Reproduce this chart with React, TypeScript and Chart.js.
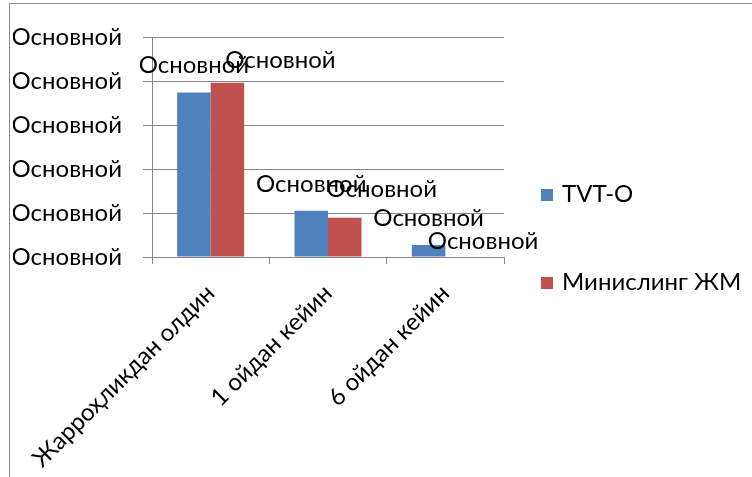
import React, { useEffect, useRef } from "react";
import { Chart, registerables } from "chart.js";

Chart.register(...registerables);

const categories = ["Жарроҳликдан олдин", "1 ойдан кейин", "6 ойдан кейин"];
const seriesNames = ["TVT-O", "Минислинг ЖМ"];
const tvtValues = [3.74, 1.05, 0.27];
const minislingValues = [3.96, 0.89, 0];
const yTickLabels = ["Основной", "Основной", "Основной", "Основной", "Основной", "Основной"];
const dataLabelText = "Основной";

const BLUE = "#4F81BD";
const RED = "#C0504D";
const GRID = "#868686";
const FONT = "Lato";
const FS = 24;

// label nudges (styling), per dataset per point
const labelNudges = [
  [{ dx: 0, dy: 0 }, { dx: 0, dy: 0 }, { dx: 0, dy: 0 }],
  [{ dx: 53, dy: 5 }, { dx: 37, dy: -1.5 }, { dx: 21, dy: 11.5 }],
];

const dataLabelPlugin = {
  id: "dataLabels",
  afterDatasetsDraw(chart: any) {
    const ctx = chart.ctx;
    ctx.save();
    ctx.font = `${FS}px ${FONT}`;
    ctx.fillStyle = "#000";
    ctx.textAlign = "center";
    ctx.textBaseline = "middle";
    chart.data.datasets.forEach((ds: any, i: number) => {
      const meta = chart.getDatasetMeta(i);
      meta.data.forEach((el: any, j: number) => {
        const n = labelNudges[i][j];
        ctx.fillText(dataLabelText, el.x + n.dx, el.y - 27 + n.dy);
      });
    });
    ctx.restore();
  },
};

const legendPlugin = {
  id: "sideLegend",
  afterDraw(chart: any) {
    const ctx = chart.ctx;
    ctx.save();
    ctx.font = `${FS}px ${FONT}`;
    ctx.textAlign = "left";
    ctx.textBaseline = "middle";
    const x0 = 541;
    const yc = chart.height / 2;
    const spacing = 88;
    chart.data.datasets.forEach((ds: any, i: number) => {
      const y = yc - spacing / 2 + i * spacing;
      ctx.fillStyle = ds.backgroundColor;
      ctx.fillRect(x0, y - 5.5, 12, 12);
      ctx.fillStyle = "#000";
      ctx.fillText(ds.label, x0 + 21, y);
    });
    ctx.restore();
  },
};

export default function App() {
  const ref = useRef<HTMLCanvasElement>(null);
  useEffect(() => {
    if (!ref.current) return;
    const chart = new Chart(ref.current, {
      type: "bar",
      data: {
        labels: categories,
        datasets: [
          { label: seriesNames[0], data: tvtValues, backgroundColor: BLUE },
          { label: seriesNames[1], data: minislingValues, backgroundColor: RED },
        ],
      },
      options: {
        animation: false,
        responsive: false,
        layout: { padding: { left: 13, top: 37, right: 248, bottom: 0 } },
        plugins: { legend: { display: false }, tooltip: { enabled: false } },
        datasets: { bar: { categoryPercentage: 0.571, barPercentage: 1 } },
        scales: {
          x: {
            afterFit: (scale: any) => {
              scale.paddingLeft = 0;
              scale.paddingRight = 0;
              scale.height = 220;
            },
            grid: { display: true, drawOnChartArea: false, drawTicks: true, tickLength: 7, color: GRID },
            border: { display: true, color: GRID },
            ticks: {
              minRotation: 45,
              maxRotation: 45,
              color: "#000",
              font: { family: FONT, size: FS },
              padding: 15,
            },
          },
          y: {
            min: 0,
            max: 5,
            afterFit: (scale: any) => {
              scale.width = 139;
            },
            grid: { color: GRID, tickLength: 9, drawTicks: true },
            border: { display: true, color: GRID },
            ticks: {
              stepSize: 1,
              color: "#000",
              padding: 21,
              font: { family: FONT, size: FS },
              callback: (v: any) => yTickLabels[Math.round(Number(v))],
            },
          },
        },
      },
      plugins: [dataLabelPlugin, legendPlugin],
    });
    return () => chart.destroy();
  }, []);
  return (
    <div style={{ position: "fixed", left: 0, top: 0, width: 752, height: 477, background: "#fff" }}>
      <div
        style={{
          position: "absolute",
          left: 9,
          top: 3,
          width: 800,
          height: 600,
          border: "1px solid #8c8c8c",
        }}
      />
      <canvas ref={ref} width={752} height={477} style={{ position: "absolute", left: 0, top: 0 }} />
    </div>
  );
}
